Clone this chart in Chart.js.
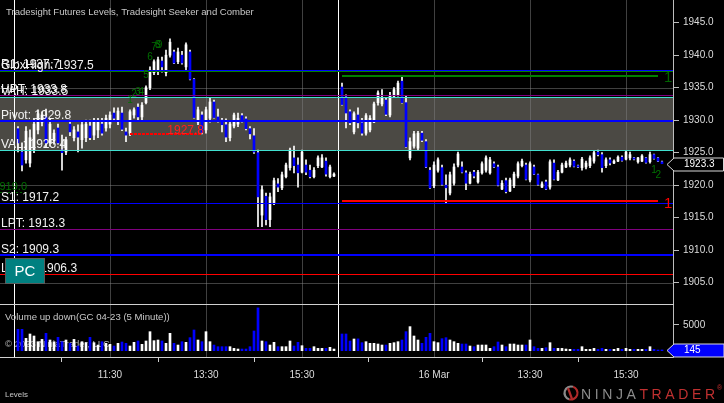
<!DOCTYPE html>
<html><head><meta charset="utf-8">
<script src="https://cdn.jsdelivr.net/npm/chart.js@4.4.1/dist/chart.umd.min.js"></script>
<style>
html,body{margin:0;padding:0;background:#000;width:724px;height:403px;overflow:hidden}
canvas{position:absolute;left:0}
#c1{top:0}
#c2{top:304px}
</style></head><body>
<canvas id="c1" width="724" height="304"></canvas>
<canvas id="c2" width="724" height="99"></canvas>
<script>
// ---------------- DATA (5-minute bars, GC 04-23) ----------------
const opens = [1928.7,1925.1,1923.9,1923.4,1925.4,1928.5,1929.7,1930.5,1926.5,1926.8,
1928.8,1925.4,1925.1,1929.4,1927.3,1928.2,1927.0,1927.3,1929.1,1927.7,
1928.5,1929.4,1928.8,1929.4,1931.1,1930.0,1931.1,1928.2,1928.0,1930.8,
1932.0,1930.5,1932.7,1935.0,1937.3,1937.7,1939.1,1937.3,1940.0,1940.5,
1939.0,1940.0,1938.2,1940.5,1936.3,1929.7,1930.8,1928.5,1930.3,1932.8,
1930.5,1930.0,1929.3,1927.3,1929.1,1929.4,1930.7,1930.2,1928.7,1927.6,
1925.0,1915.4,1918.3,1914.7,1917.3,1920.2,1919.6,1921.3,1922.7,1924.2,
1923.1,1922.0,1923.1,1922.3,1921.3,1923.0,1922.8,1923.7,1921.3,1921.4,
null,
1935.1,1933.6,1931.3,1928.2,1930.8,1929.6,1928.0,1928.5,1929.7,1932.7,
1932.5,1933.1,1930.8,1933.7,1933.9,1936.0,1932.7,1924.2,1926.0,1925.7,
1928.0,1926.7,1922.3,1919.9,1922.3,1922.7,1920.0,1918.8,1920.3,1923.1,
1922.8,1921.9,1920.3,1922.0,1920.5,1921.9,1922.3,1921.9,1923.3,1922.8,
1919.4,1920.7,1919.1,1919.9,1921.4,1923.0,1923.1,1920.8,1922.8,1921.6,
1919.7,1920.5,1919.7,1923.4,1920.8,1922.0,1922.8,1923.1,1923.7,1923.0,
1922.7,1922.8,1923.0,1923.7,1925.1,1924.7,1923.0,1923.9,1923.4,1923.7,
1924.3,1924.0,1924.2,1924.2,1923.6,1923.7,1924.2,1923.6,1924.7,1924.2,
1923.6];
const highs = [1929.0,1926.5,1929.0,1928.5,1930.3,1931.6,1931.3,1931.7,1930.2,1928.5,
1929.4,1927.7,1927.4,1930.0,1929.0,1929.3,1929.9,1930.0,1930.0,1930.3,
1930.3,1930.3,1930.8,1931.3,1931.9,1931.9,1932.0,1928.8,1931.6,1931.9,
1932.5,1932.7,1935.3,1938.2,1939.3,1939.7,1939.7,1940.8,1942.5,1940.8,
1941.1,1940.6,1941.9,1940.8,1936.4,1932.0,1931.3,1932.0,1933.4,1933.1,
1931.7,1930.3,1930.2,1929.7,1931.1,1931.1,1931.0,1930.5,1929.0,1928.7,
1925.4,1919.9,1918.8,1918.8,1921.1,1921.0,1922.0,1923.4,1925.7,1926.0,
1924.2,1925.4,1923.9,1923.1,1922.7,1924.5,1924.7,1924.2,1923.1,1921.9,
null,
1935.7,1933.9,1931.6,1931.3,1931.9,1930.3,1931.0,1930.7,1932.8,1934.5,
1934.7,1933.4,1934.3,1935.0,1936.0,1936.7,1933.7,1927.3,1928.3,1928.3,
1928.3,1927.0,1922.7,1923.6,1924.2,1923.1,1921.6,1922.0,1923.3,1925.1,
1923.6,1922.2,1922.0,1922.3,1922.3,1923.6,1924.5,1924.3,1923.6,1923.1,
1920.7,1921.1,1921.1,1922.0,1923.6,1924.0,1923.4,1923.6,1923.1,1921.7,
1920.5,1920.8,1923.9,1923.9,1922.3,1923.4,1923.7,1924.2,1923.9,1923.1,
1924.3,1923.7,1924.5,1925.3,1925.4,1925.0,1924.2,1924.2,1923.9,1924.5,
1924.5,1925.3,1925.1,1924.3,1924.3,1924.7,1924.3,1925.1,1924.8,1924.3,
1923.7];
const lows = [1925.1,1922.2,1923.4,1922.8,1925.0,1927.9,1929.1,1925.9,1926.0,1926.3,
1926.3,1922.3,1924.7,1927.6,1926.8,1925.1,1925.7,1926.7,1927.0,1927.0,
1927.3,1927.7,1928.3,1928.8,1930.0,1929.3,1928.4,1926.7,1927.6,1930.3,
1930.0,1930.0,1932.5,1934.7,1937.0,1937.0,1937.4,1936.8,1939.7,1938.7,
1938.7,1938.6,1937.7,1936.2,1930.3,1929.3,1927.9,1928.0,1929.7,1930.3,
1929.7,1928.2,1926.7,1926.8,1928.8,1929.0,1929.7,1928.5,1927.1,1924.9,
1913.6,1913.6,1913.9,1913.6,1917.0,1919.0,1919.3,1921.1,1922.3,1921.9,
1919.7,1921.9,1921.6,1921.1,1921.1,1922.7,1922.7,1921.4,1921.1,1921.3,
null,
1932.3,1928.8,1929.3,1927.9,1928.8,1927.7,1927.7,1928.2,1929.6,1932.3,
1932.2,1930.7,1930.5,1933.6,1933.7,1932.6,1925.8,1923.9,1925.7,1925.4,
1926.7,1922.7,1919.5,1919.6,1922.0,1920.0,1917.3,1918.5,1920.0,1922.8,
1921.9,1919.3,1920.2,1921.1,1920.3,1921.7,1922.0,1921.7,1922.7,1919.9,
1919.3,1918.8,1919.0,1919.6,1921.1,1922.8,1920.8,1920.5,1921.6,1920.0,
1919.6,1919.3,1919.4,1920.8,1920.7,1921.9,1922.7,1922.8,1922.8,1922.7,
1922.3,1922.5,1922.7,1923.4,1924.5,1922.0,1922.7,1923.1,1923.3,1923.6,
1923.7,1923.9,1923.9,1923.9,1923.4,1923.6,1923.4,1923.4,1924.0,1923.6,
1923.3];
const closes = [1926.5,1923.1,1928.3,1927.3,1929.4,1931.0,1930.8,1926.5,1929.4,1928.0,
1926.5,1925.0,1927.0,1928.2,1928.5,1927.4,1929.3,1929.4,1927.3,1929.7,
1929.9,1928.0,1930.3,1930.8,1930.3,1931.4,1928.6,1927.7,1931.3,1931.6,
1930.5,1932.3,1935.0,1937.7,1939.0,1939.3,1938.2,1940.0,1942.0,1938.8,
1940.5,1938.8,1941.6,1936.3,1930.4,1931.6,1928.1,1931.6,1932.8,1930.4,
1930.0,1929.3,1927.4,1929.4,1930.8,1930.3,1930.0,1928.7,1927.9,1925.1,
1918.2,1919.3,1914.7,1918.2,1920.7,1919.7,1921.6,1923.1,1925.4,1923.0,
1921.9,1925.1,1922.0,1921.3,1922.3,1924.2,1924.2,1921.7,1922.8,1921.7,
null,
1932.4,1931.1,1929.6,1931.0,1929.6,1928.0,1930.7,1930.3,1932.5,1934.2,
1933.4,1930.9,1933.7,1934.7,1935.7,1932.7,1925.9,1926.7,1927.9,1928.0,
1926.9,1922.8,1919.6,1923.1,1923.9,1920.1,1919.6,1921.6,1922.8,1924.8,
1922.0,1920.3,1921.7,1921.4,1922.0,1923.3,1924.2,1923.9,1922.8,1920.0,
1920.3,1919.0,1920.8,1921.7,1923.3,1923.7,1920.9,1923.3,1921.7,1920.1,
1920.2,1919.4,1923.6,1920.9,1922.0,1923.1,1923.4,1923.9,1922.9,1922.8,
1924.0,1923.4,1924.2,1925.0,1924.7,1922.7,1923.9,1923.4,1923.7,1924.3,
1923.8,1925.1,1924.7,1924.0,1924.2,1924.5,1923.5,1924.7,1924.1,1923.7,
1923.3];
const volumes = [4160,4160,2400,3250,2860,1750,2200,3380,2080,1750,
2600,1750,2080,1430,2200,910,1750,1560,2600,1560,
1100,1750,1430,1235,910,1430,1690,1430,910,1625,
1885,1235,1885,3700,1950,2080,1885,1430,3380,1430,
1100,1750,1625,2535,4030,2080,1755,3700,1755,1100,
780,780,780,780,455,325,325,325,780,3835,
8320,1885,1755,1105,1625,780,780,780,1885,910,
1625,975,455,455,780,455,455,455,650,325,
null,
3250,3250,1885,2275,2300,1560,1755,1430,1430,1300,
1105,1105,1430,1560,1755,2080,3705,4680,2860,2080,
1430,2600,3380,1755,1560,2340,2535,2080,1755,1430,
1300,1300,910,780,1105,1105,1105,455,780,1690,
1105,780,1300,1300,1105,1105,1105,2080,780,455,
455,585,1560,455,455,455,325,260,260,260,
780,260,260,455,260,455,260,260,260,455,
260,455,260,260,260,260,260,780,260,130,
145];

const tickBars = [23, 47, 71, 104, 128, 152];
const tickLabels = ['11:30', '13:30', '15:30', '16 Mar', '13:30', '15:30'];
const sessionBreaks = [-1, 80];
const priceTicks = [1905, 1910, 1915, 1920, 1925, 1930, 1935, 1940, 1945];
const gridPrices = [1905, 1920, 1935];
const volumeTicks = [5000];

const levelNames  = ['R1', 'GlbxHigh', 'HPT', 'VAH', 'Pivot', 'VAL', 'S1', 'LPT', 'S2', 'Lower'];
const levelValues = [1937.7, 1937.5, 1933.8, 1933.5, 1929.8, 1925.4, 1917.2, 1913.3, 1909.3, 1906.3];
const valueArea = [1933.5, 1925.4];

const seekerValues = [1936.8, 1917.5];
const seekerLabels = ['1', '1'];
const seekerFrom = 81, seekerTo = 160;

const stopValue = 1927.8, stopFrom = 28, stopTo = 46;
const markValue = 1919.0;

const countLabels = ['1', '2', '3', '4', '5', '6', '7', '8', '9', '1', '2'];
const countBars   = [28, 29, 30, 30.8, 32, 33, 34, 34.95, 35.4, 159, 160.1];
const countPrices = [1932.7, 1933.6, 1933.9, 1933.9, 1936.5, 1939.3, 1940.8, 1941.1, 1941.1, 1921.8, 1921.1];

const lastPrice = 1923.3;
const lastVolume = 145;

// ---------------- STYLES ----------------
const FONT = 'Arial, "Liberation Sans", sans-serif';
const UP = '#ffffff', DOWN = '#0000ff';
const levelColors = ['#0000ff', '#008000', '#800080', '#40e0d0', '#0000ff', '#40e0d0', '#0000ff', '#800080', '#0000ff', '#ff0000'];
const levelWidths = [1, 1, 1, 1, 2, 1, 1, 1, 2, 1];
const seekerColors = ['#008000', '#ff0000'];
const countColor = '#007000';

const X_MIN = -4.5, X_MAX = 163.75;

function fitFont(ctx, text, width, base) {
  ctx.font = base + 'px ' + FONT;
  const w = ctx.measureText(text).width;
  ctx.font = (base * width / w).toFixed(2) + 'px ' + FONT;
}
function hline(ctx, x0, x1, yv, w) {
  const yy = w % 2 ? Math.round(yv) + 0.5 : Math.round(yv);
  ctx.lineWidth = w;
  ctx.beginPath(); ctx.moveTo(x0, yy); ctx.lineTo(x1, yy); ctx.stroke();
}
function noPad(s) { s.paddingTop = 0; s.paddingBottom = 0; s.paddingLeft = 0; s.paddingRight = 0; }

// ---------------- BUILD DATASETS ----------------
const bodyPts = [], wickPts = [], bodyCols = [], volPts = [], volCols = [];
opens.forEach((o, k) => {
  if (o === null) return;
  const up = closes[k] >= o;
  wickPts.push({x: k, y: [lows[k], highs[k]]});
  bodyPts.push({x: k, y: [o, closes[k]]});
  bodyCols.push(up ? UP : DOWN);
  volPts.push({x: k, y: volumes[k]});
  volCols.push(up ? UP : DOWN);
});

// ---------------- PRICE PANEL ----------------
const pricePanel = {
  id: 'pricePanel',
  beforeDatasetsDraw(chart) {
    const {ctx, chartArea: a, scales: {x, y}} = chart;
    ctx.save();
    const yt = Math.round(y.getPixelForValue(valueArea[0])), yb = Math.round(y.getPixelForValue(valueArea[1]));
    ctx.fillStyle = '#4b4944';
    ctx.fillRect(a.left, yt, a.right - a.left, yb - yt);
    ctx.strokeStyle = 'rgba(128,128,128,0.5)';
    ctx.lineWidth = 1;
    ctx.beginPath();
    gridPrices.forEach(p => { const yy = Math.round(y.getPixelForValue(p)) + 0.5; ctx.moveTo(a.left, yy); ctx.lineTo(a.right, yy); });
    tickBars.forEach(k => { const xx = Math.floor(x.getPixelForValue(k)) + 0.5; ctx.moveTo(xx, a.top); ctx.lineTo(xx, a.bottom); });
    ctx.stroke();
    ctx.strokeStyle = '#ffffff';
    ctx.beginPath();
    sessionBreaks.forEach(k => { const xx = Math.floor(x.getPixelForValue(k)) + 0.5; ctx.moveTo(xx, a.top); ctx.lineTo(xx, a.bottom); });
    ctx.stroke();
    ctx.fillStyle = '#c8c8c8';
    fitFont(ctx, 'Tradesight Futures Levels, Tradesight Seeker and Comber', 248, 11);
    ctx.textBaseline = 'alphabetic'; ctx.textAlign = 'left';
    ctx.fillText('Tradesight Futures Levels, Tradesight Seeker and Comber', 6, 14.5);
    ctx.restore();
  },
  afterDatasetsDraw(chart) {
    const {ctx, chartArea: a, scales: {x, y}} = chart;
    ctx.save();
    levelValues.forEach((v, i) => {
      ctx.strokeStyle = levelColors[i];
      hline(ctx, a.left, a.right, y.getPixelForValue(v), levelWidths[i]);
    });
    seekerValues.forEach((v, i) => {
      ctx.strokeStyle = seekerColors[i];
      hline(ctx, x.getPixelForValue(seekerFrom), x.getPixelForValue(seekerTo), y.getPixelForValue(v), 2);
      ctx.fillStyle = i === 0 ? '#006400' : '#ff0000';
      ctx.font = '15px ' + FONT; ctx.textAlign = 'left'; ctx.textBaseline = 'middle';
      ctx.fillText(seekerLabels[i], 664, y.getPixelForValue(v) + 2);
    });
    ctx.strokeStyle = '#ff0000';
    ctx.setLineDash([3, 1]);
    hline(ctx, x.getPixelForValue(stopFrom), x.getPixelForValue(stopTo), y.getPixelForValue(stopValue), 2);
    ctx.setLineDash([]);
    ctx.fillStyle = '#ff2020';
    ctx.font = '12px ' + FONT; ctx.textAlign = 'right'; ctx.textBaseline = 'alphabetic';
    ctx.fillText(stopValue.toFixed(1), 204, Math.round(y.getPixelForValue(stopValue)));
    const my = y.getPixelForValue(markValue);
    ctx.strokeStyle = '#006400'; ctx.setLineDash([2, 2]);
    hline(ctx, 0, 27, my, 1);
    ctx.setLineDash([]);
    ctx.fillStyle = '#007000'; ctx.font = '11px ' + FONT;
    ctx.fillText(markValue.toFixed(1), 27, my - 1.5);
    ctx.textAlign = 'left'; ctx.textBaseline = 'alphabetic';
    ctx.font = '12px ' + FONT;
    ctx.fillStyle = '#f2f2f2';
    levelValues.forEach((v, i) => {
      ctx.fillText(levelNames[i] + ': ' + v.toFixed(1), 1, y.getPixelForValue(v) - 2);
    });
    ctx.fillStyle = countColor; ctx.font = '10px ' + FONT; ctx.textAlign = 'center';
    countLabels.forEach((t, i) => ctx.fillText(t, x.getPixelForValue(countBars[i]), y.getPixelForValue(countPrices[i])));
    ctx.fillStyle = '#008080'; ctx.fillRect(5, 258, 40, 26);
    ctx.strokeStyle = '#5a5a5a'; ctx.lineWidth = 1; ctx.strokeRect(5.5, 258.5, 39, 25);
    ctx.fillStyle = '#ffffff'; ctx.font = '15px ' + FONT; ctx.textAlign = 'center'; ctx.textBaseline = 'middle';
    ctx.fillText('PC', 25, 272);
    const py = Math.round(y.getPixelForValue(lastPrice)) + 0.5;
    ctx.beginPath();
    ctx.moveTo(667, py); ctx.lineTo(674, py - 6.5); ctx.lineTo(723.5, py - 6.5); ctx.lineTo(723.5, py + 6.5); ctx.lineTo(674, py + 6.5); ctx.closePath();
    ctx.fillStyle = '#000'; ctx.fill(); ctx.strokeStyle = '#d8d8d8'; ctx.stroke();
    ctx.fillStyle = '#ffffff'; ctx.font = '10px ' + FONT; ctx.textAlign = 'left'; ctx.textBaseline = 'middle';
    ctx.fillText(lastPrice.toFixed(1), 684, py);
    ctx.restore();
  }
};

new Chart(document.getElementById('c1'), {
  data: {
    datasets: [
      {type: 'bar', data: bodyPts, backgroundColor: bodyCols, barThickness: 2, grouped: false, minBarLength: 1, order: 0},
      {type: 'bar', data: wickPts, backgroundColor: '#ffffff', barThickness: 1, grouped: false, order: 1}
    ]
  },
  options: {
    responsive: false, animation: false, devicePixelRatio: 1,
    layout: {padding: 0},
    plugins: {legend: {display: false}, tooltip: {enabled: false}},
    scales: {
      x: {type: 'linear', min: X_MIN, max: X_MAX, offset: false, display: false},
      y: {
        type: 'linear', position: 'right', min: 1901.72, max: 1948.49,
        afterBuildTicks: s => { s.ticks = priceTicks.map(v => ({value: v})); },
        afterFit: s => { s.width = 51; noPad(s); },
        ticks: {callback: v => Number(v).toFixed(1), color: '#dcdcdc', font: {family: FONT, size: 10}, padding: 4},
        grid: {drawOnChartArea: false, drawTicks: true, tickLength: 6, tickColor: '#bdbdbd'},
        border: {display: true, color: '#bdbdbd'}
      }
    }
  },
  plugins: [pricePanel]
});

// ---------------- VOLUME PANEL ----------------
const volumePanel = {
  id: 'volumePanel',
  beforeDatasetsDraw(chart) {
    const {ctx, chartArea: a, scales: {x}} = chart;
    ctx.save();
    ctx.strokeStyle = 'rgba(128,128,128,0.5)'; ctx.lineWidth = 1;
    ctx.beginPath();
    tickBars.forEach(k => { const xx = Math.floor(x.getPixelForValue(k)) + 0.5; ctx.moveTo(xx, a.top); ctx.lineTo(xx, a.bottom); });
    ctx.stroke();
    ctx.strokeStyle = '#ffffff';
    ctx.beginPath();
    sessionBreaks.forEach(k => { const xx = Math.floor(x.getPixelForValue(k)) + 0.5; ctx.moveTo(xx, a.top); ctx.lineTo(xx, a.bottom); });
    ctx.stroke();
    ctx.fillStyle = '#c8c8c8'; ctx.textAlign = 'left'; ctx.textBaseline = 'alphabetic';
    fitFont(ctx, 'Volume up down(GC 04-23 (5 Minute))', 165, 11);
    ctx.fillText('Volume up down(GC 04-23 (5 Minute))', 5, 16);
    fitFont(ctx, '\u00a9 2023 NinjaTrader, LLC', 105, 11);
    ctx.fillStyle = '#b8b8b8';
    ctx.fillText('\u00a9 2023 NinjaTrader, LLC', 5, 43);
    ctx.restore();
  },
  afterDraw(chart) {
    const {ctx, chartArea: a} = chart;
    ctx.save();
    ctx.strokeStyle = '#d0d0d0'; ctx.lineWidth = 1;
    ctx.beginPath(); ctx.moveTo(0, 0.5); ctx.lineTo(a.right + 1, 0.5); ctx.stroke();
    const vy = a.bottom - 6.5;
    ctx.beginPath();
    ctx.moveTo(667, vy); ctx.lineTo(674, vy - 6.5); ctx.lineTo(724, vy - 6.5); ctx.lineTo(724, vy + 6.5); ctx.lineTo(674, vy + 6.5); ctx.closePath();
    ctx.fillStyle = '#0000ff'; ctx.fill(); ctx.strokeStyle = '#d8d8d8'; ctx.stroke();
    ctx.fillStyle = '#ffffff'; ctx.font = '10px ' + FONT; ctx.textAlign = 'left'; ctx.textBaseline = 'middle';
    ctx.fillText(String(lastVolume), 684, vy);
    ctx.fillStyle = '#c8c8c8'; ctx.textBaseline = 'alphabetic';
    fitFont(ctx, 'Levels', 23, 10);
    ctx.fillText('Levels', 5, 93);
    const cx = 571, cy = 89;
    ctx.lineWidth = 2.2;
    ctx.strokeStyle = '#8a8a8a';
    ctx.beginPath(); ctx.arc(cx, cy, 6.5, Math.PI * 0.6, Math.PI * 1.6); ctx.stroke();
    ctx.strokeStyle = '#b02a2a';
    ctx.beginPath(); ctx.arc(cx, cy, 6.5, Math.PI * 1.6, Math.PI * 2.6); ctx.stroke();
    ctx.beginPath(); ctx.moveTo(cx - 3, cy - 5); ctx.lineTo(cx + 1, cy + 6); ctx.stroke();
    ctx.font = '14px ' + FONT; ctx.textAlign = 'left';
    ctx.letterSpacing = '3.6px';
    ctx.fillStyle = '#8c8c8c';
    ctx.fillText('NINJA', 581, 95);
    const w = ctx.measureText('NINJA').width;
    ctx.fillStyle = '#c03030';
    ctx.fillText('TRADER', 581 + w, 95);
    ctx.letterSpacing = '0px';
    ctx.font = '7px ' + FONT;
    ctx.fillText('\u00ae', 717, 86);
    ctx.restore();
  }
};

new Chart(document.getElementById('c2'), {
  data: {
    datasets: [
      {type: 'bar', data: volPts, backgroundColor: volCols, barThickness: 2, grouped: false}
    ]
  },
  options: {
    responsive: false, animation: false, devicePixelRatio: 1,
    layout: {padding: 0},
    plugins: {legend: {display: false}, tooltip: {enabled: false}},
    scales: {
      x: {
        type: 'linear', position: 'bottom', min: X_MIN, max: X_MAX, offset: false,
        afterBuildTicks: s => { s.ticks = tickBars.map(v => ({value: v})); },
        afterFit: s => { s.height = 46; noPad(s); },
        ticks: {callback: (v, i) => tickLabels[i], autoSkip: false, maxRotation: 0, color: '#dcdcdc', font: {family: FONT, size: 10}, padding: 7},
        grid: {drawOnChartArea: false, drawTicks: true, tickLength: 5, tickColor: '#cfcfcf'},
        border: {display: true, color: '#d0d0d0'}
      },
      y: {
        type: 'linear', position: 'right', min: -1226, max: 9085,
        afterBuildTicks: s => { s.ticks = volumeTicks.map(v => ({value: v})); },
        afterFit: s => { s.width = 51; noPad(s); },
        ticks: {callback: v => String(v), color: '#dcdcdc', font: {family: FONT, size: 10}, padding: 4},
        grid: {drawOnChartArea: false, drawTicks: true, tickLength: 6, tickColor: '#bdbdbd'},
        border: {display: true, color: '#bdbdbd'}
      }
    }
  },
  plugins: [volumePanel]
});
</script>
</body></html>
